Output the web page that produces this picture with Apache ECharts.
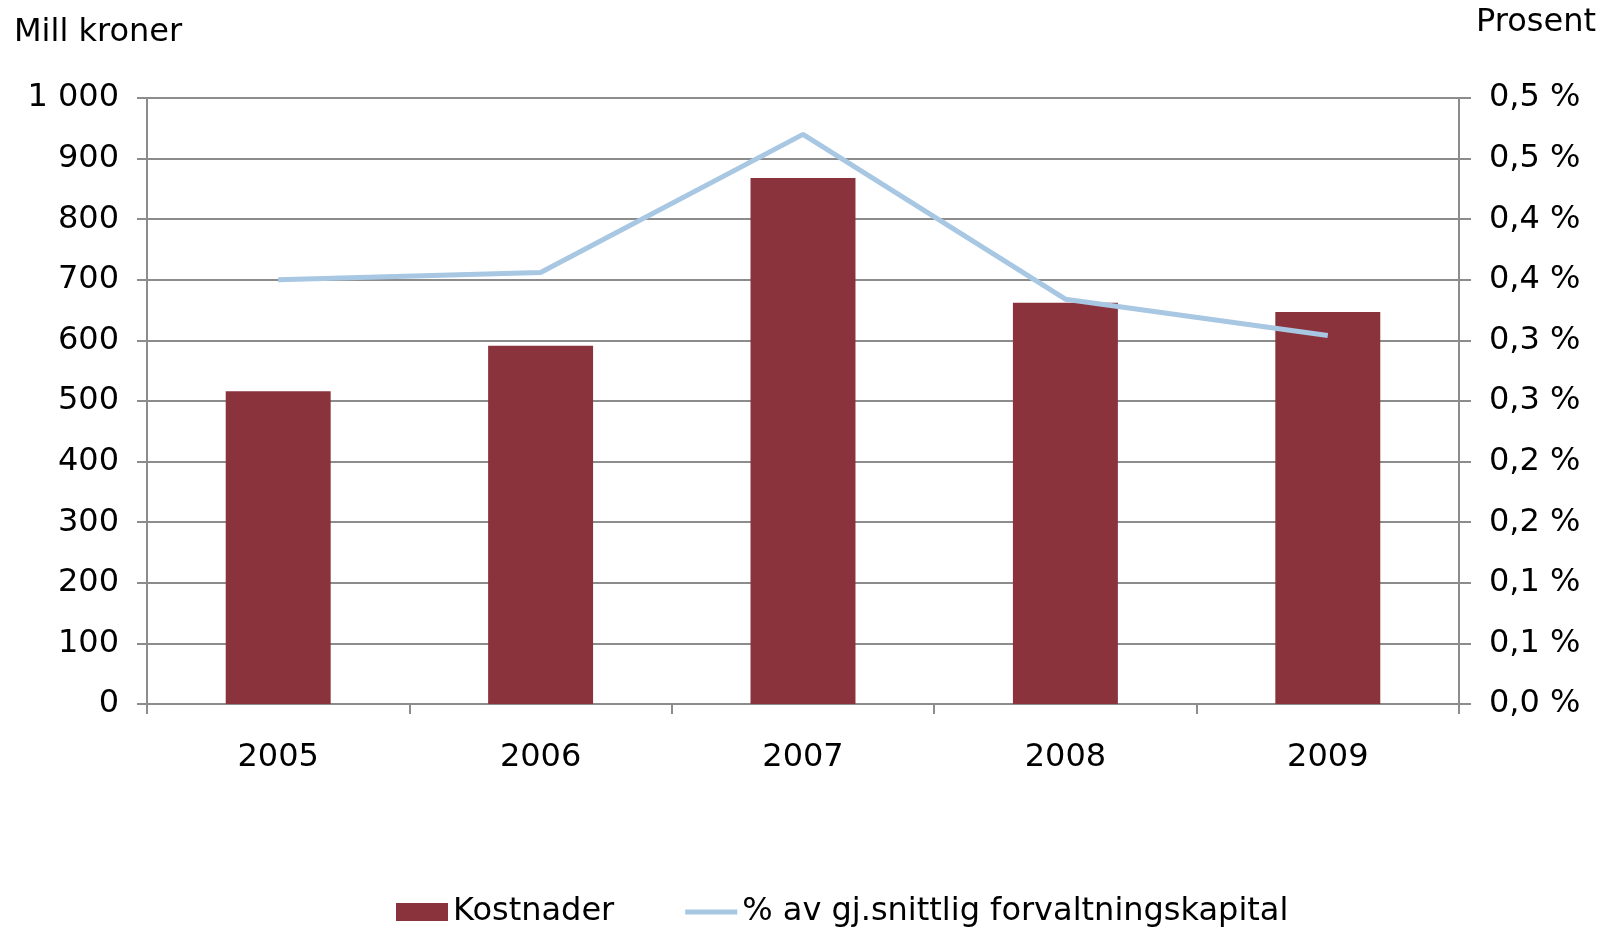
<!DOCTYPE html>
<html>
<head>
<meta charset="utf-8">
<script src="https://cdn.jsdelivr.net/npm/echarts@6/dist/echarts.min.js"></script>
<style>
  html, body { margin: 0; padding: 0; background: #fff; }
  #chart { width: 1606px; height: 929px; }
</style>
</head>
<body>
<div id="chart"></div>
<script>
// data
var years = ["2005", "2006", "2007", "2008", "2009"];
var kostnader = [516, 591, 868, 662, 647];           // mill kroner
var andel = [0.350, 0.356, 0.470, 0.334, 0.304];      // prosent av gj.snittlig forvaltningskapital

var font = "DejaVu Sans, Verdana, sans-serif";
var grey = "#8c8c8c";
var fs = 32;

var chart = echarts.init(document.getElementById("chart"));

chart.setOption({
  animation: false,
  textStyle: { fontFamily: font, color: "#000" },
  grid: { left: 147, right: 147, top: 98, bottom: 225, containLabel: false },
  graphic: [
    { type: "text", left: 14, top: 17, style: { text: "Mill kroner", font: fs + "px " + font, fill: "#000" } },
    { type: "text", right: 10, top: 7, style: { text: "Prosent", font: fs + "px " + font, fill: "#000" } }
  ],
  legend: {
    top: 891,
    left: 391,
    itemWidth: 52,
    itemHeight: 18,
    itemGap: 71,
    textStyle: { fontSize: fs, fontFamily: font, color: "#000" },
    data: [
      { name: "Kostnader", icon: "rect" },
      { name: "% av gj.snittlig forvaltningskapital", icon: "path://M0,7L52,7L52,12L0,12Z" }
    ]
  },
  xAxis: {
    type: "category",
    data: years,
    boundaryGap: true,
    axisLine: { lineStyle: { color: grey, width: 2 } },
    axisTick: { show: true, length: 10, alignWithLabel: false, lineStyle: { color: grey, width: 2 } },
    axisLabel: { margin: 38, fontSize: fs, color: "#000", fontFamily: font }
  },
  yAxis: [
    {
      type: "value",
      min: 0,
      max: 1000,
      interval: 100,
      axisLine: { show: true, lineStyle: { color: grey, width: 2 } },
      axisTick: { show: true, length: 10, lineStyle: { color: grey, width: 2 } },
      splitLine: { show: true, lineStyle: { color: grey, width: 2 } },
      axisLabel: {
        margin: 28,
        fontSize: fs,
        color: "#000",
        fontFamily: font,
        formatter: function (v) {
          return String(v).replace(/\B(?=(\d{3})+(?!\d))/g, " ");
        }
      }
    },
    {
      type: "value",
      min: 0,
      max: 0.5,
      interval: 0.05,
      position: "right",
      axisLine: { show: true, lineStyle: { color: grey, width: 2 } },
      axisTick: { show: true, length: 12, lineStyle: { color: grey, width: 2 } },
      splitLine: { show: false },
      axisLabel: {
        margin: 30,
        fontSize: fs,
        color: "#000",
        fontFamily: font,
        formatter: function (v) {
          var r = Math.round(v * 10 + 1e-6) / 10;
          return r.toFixed(1).replace(".", ",") + " %";
        }
      }
    }
  ],
  series: [
    {
      name: "Kostnader",
      type: "bar",
      data: kostnader,
      barWidth: "40%",
      itemStyle: { color: "#8a333d" }
    },
    {
      name: "% av gj.snittlig forvaltningskapital",
      type: "line",
      yAxisIndex: 1,
      data: andel,
      symbol: "none",
      lineStyle: { color: "#a7c7e3", width: 5 },
      itemStyle: { color: "#a7c7e3" }
    }
  ]
});
</script>
</body>
</html>
